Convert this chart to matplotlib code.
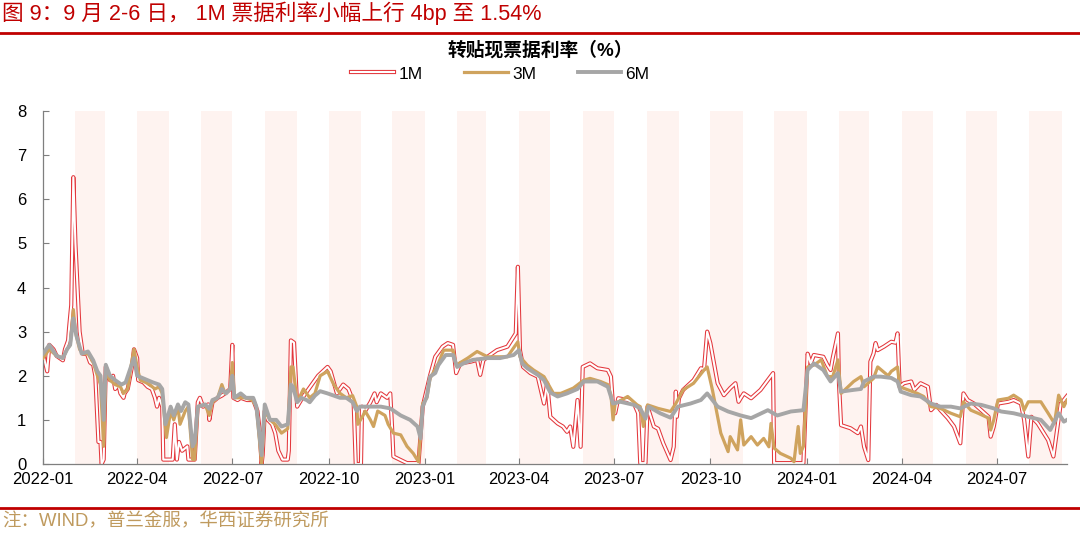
import matplotlib
matplotlib.use('Agg')
import matplotlib.pyplot as plt
import matplotlib.dates as mdates
import matplotlib.patheffects as pe
from matplotlib.lines import Line2D
import pandas as pd

plt.rcParams['font.family'] = ['Liberation Sans', 'Noto Sans CJK SC']

# days since 2022-01-01 and rates (%)
start = pd.Timestamp('2022-01-01')
end = pd.Timestamp('2024-09-06')

days_1m = [0, 4, 6, 10, 13, 16, 19, 21, 24, 25, 27, 29, 31, 35, 38, 42, 45, 48, 50, 53, 55, 56, 58, 60,
           64, 67, 69, 72, 74, 77, 78, 81, 85, 87, 90, 91, 96, 100, 104, 107, 109, 111, 114, 115, 124,
           126, 128, 130, 133, 138, 139, 145, 148, 150, 153, 158, 159, 162, 167, 171, 174, 179, 181,
           182, 186, 189, 195, 201, 205, 207, 209, 210, 212, 215, 219, 222, 225, 229, 234, 235, 237,
           240, 243, 248, 251, 257, 263, 272, 275, 281, 287, 292, 297, 299, 304, 305, 308, 313, 317,
           319, 323, 329, 332, 334, 335, 342, 348, 359, 363, 370, 375, 382, 387, 392, 395, 399, 409,
           415, 418, 421, 425, 434, 444, 452, 454, 456, 459, 466, 473, 479, 482, 485, 492, 497, 501,
           504, 507, 511, 514, 516, 523, 530, 540, 543, 545, 547, 550, 559, 565, 569, 571, 576, 578,
           584, 588, 593, 600, 603, 605, 606, 608, 612, 622, 629, 632, 635, 638, 645, 651, 657, 662,
           665, 667, 670, 677, 686, 693, 698, 699, 727, 731, 734, 737, 746, 750, 753, 755, 760, 761,
           763, 772, 779, 782, 785, 789, 791, 794, 796, 798, 804, 811, 815, 817, 819, 823, 830, 833,
           839, 846, 849, 854, 858, 865, 871, 877, 879, 880, 884, 890, 897, 904, 906, 909, 913, 923,
           928, 935, 938, 942, 945, 951, 961, 966, 970, 973, 976, 979]
rate_1m = [2.5, 2.1, 2.7, 2.6, 2.45, 2.4, 2.35, 2.6, 2.8, 3.1, 3.6, 6.5, 5.0, 3.0, 2.5, 2.5, 2.3, 2.25,
           2.0, 0.5, 0.5, 0.0, 0.1, 2.2, 1.9, 2.0, 1.7, 1.8, 1.6, 1.5, 1.6, 1.7, 2.2, 2.6, 2.4, 1.9,
           1.85, 1.75, 1.7, 1.5, 1.3, 1.5, 1.3, 0.1, 0.1, 0.9, 0.1, 0.5, 0.3, 0.4, 0.1, 0.1, 1.4, 1.5,
           1.3, 1.35, 1.0, 1.4, 1.5, 1.55, 1.6, 1.7, 2.7, 1.5, 1.45, 1.5, 1.45, 1.45, 1.2, 0.8, 0.0,
           0.2, 1.2, 1.0, 0.9, 0.7, 0.3, 0.1, 0.1, 0.3, 2.8, 2.75, 1.3, 1.5, 1.6, 1.8, 2.0, 2.2, 2.1,
           1.6, 1.8, 1.7, 1.4, 0.0, 0.0, 1.3, 1.2, 1.4, 1.6, 1.4, 1.6, 1.5, 1.6, 0.7, 0.17, 0.09,
           0.02, 0.02, 1.3, 2.0, 2.43, 2.66, 2.74, 2.7, 2.06, 2.28, 2.32, 2.36, 2.02, 2.35, 2.43,
           2.58, 2.66, 2.96, 4.47, 2.58, 2.2, 2.06, 1.98, 1.37, 1.83, 1.07, 0.92, 0.85, 0.73, 0.85,
           0.39, 1.45, 0.39, 2.2, 2.28, 2.17, 2.13, 1.98, 1.3, 1.15, 1.49, 1.45, 1.37, 1.15, 0.02,
           0.02, 1.3, 0.85, 0.8, 0.47, 0.09, 0.39, 1.64, 1.07, 1.49, 1.68, 1.9, 2.17, 2.15, 3.0,
           2.74, 1.83, 1.56, 1.72, 1.83, 1.41, 1.49, 1.6, 1.49, 1.68, 1.9, 2.06, 0.02, 0.02, 2.5,
           2.28, 2.47, 2.43, 2.24, 2.13, 2.4, 2.96, 1.83, 0.88, 0.81, 0.7, 0.85, 0.39, 0.09, 2.32,
           2.5, 2.74, 2.58, 2.66, 2.77, 2.75, 2.96, 1.75, 1.83, 1.87, 1.68, 1.83, 1.75, 1.22, 1.34,
           1.22, 1.04, 0.85, 0.47, 1.22, 1.6, 1.45, 1.37, 1.22, 1.07, 0.62, 0.85, 1.37, 1.41, 1.45,
           1.37, 1.0, 0.17, 1.07, 0.92, 0.54, 0.17, 0.85, 1.37, 1.45, 1.54]

days_3m = [0, 6, 13, 19, 23, 26, 29, 31, 35, 38, 43, 48, 52, 55, 58, 60, 64, 69, 74, 77, 81, 84, 87,
           90, 93, 98, 102, 107, 111, 114, 118, 122, 125, 129, 131, 136, 139, 143, 145, 148, 155,
           159, 162, 167, 171, 174, 179, 181, 183, 193, 200, 204, 209, 212, 217, 222, 228, 234, 235,
           237, 239, 243, 247, 249, 255, 260, 265, 272, 278, 284, 290, 296, 300, 301, 306, 308, 313,
           316, 320, 327, 330, 335, 342, 348, 354, 359, 363, 367, 370, 378, 383, 392, 395, 406, 415,
           425, 444, 454, 456, 463, 469, 479, 488, 495, 507, 517, 523, 533, 540, 543, 545, 547, 559,
           568, 571, 574, 578, 588, 600, 605, 612, 622, 632, 635, 640, 648, 655, 657, 664, 667, 670,
           677, 683, 689, 694, 696, 699, 705, 715, 718, 722, 724, 727, 731, 737, 744, 750, 755, 760,
           763, 775, 782, 785, 794, 798, 808, 811, 817, 819, 827, 836, 842, 849, 858, 868, 877, 880,
           887, 894, 904, 906, 909, 913, 923, 928, 935, 938, 942, 954, 961, 967, 971, 976, 979]
rate_3m = [2.4, 2.6, 2.45, 2.4, 2.6, 2.7, 3.5, 3.0, 2.6, 2.5, 2.5, 2.3, 2.0, 1.8, 0.4, 2.1, 1.9, 1.8,
           1.75, 1.6, 1.7, 2.2, 2.6, 2.2, 1.9, 1.85, 1.8, 1.7, 1.75, 1.6, 0.6, 1.2, 1.0, 1.3, 0.9,
           1.2, 1.3, 0.1, 0.1, 1.3, 1.35, 1.1, 1.4, 1.5, 1.8, 1.6, 1.7, 2.3, 1.5, 1.5, 1.45, 1.3,
           0.0, 1.2, 1.0, 0.9, 0.7, 0.8, 1.2, 2.2, 2.2, 1.4, 1.6, 1.7, 1.5, 1.6, 2.0, 2.1, 1.8, 1.6,
           1.5, 1.55, 1.3, 0.9, 1.1, 1.2, 1.0, 0.85, 1.2, 1.1, 0.9, 0.7, 0.66, 0.4, 0.24, 0.05,
           1.37, 1.5, 1.94, 2.28, 2.58, 2.58, 2.24, 2.4, 2.55, 2.43, 2.43, 2.77, 2.43, 2.24, 2.13,
           1.98, 1.6, 1.6, 1.72, 1.9, 1.94, 1.87, 1.8, 1.56, 1.0, 1.37, 1.53, 1.34, 1.3, 0.85, 1.34,
           1.26, 1.19, 1.37, 1.68, 1.83, 2.13, 2.2, 1.68, 0.7, 0.28, 0.62, 0.32, 1.0, 0.43, 0.62,
           0.43, 0.58, 0.39, 0.92, 0.36, 0.24, 0.13, 0.05, 0.85, 0.24, 0.4, 2.2, 2.24, 2.36, 1.98,
           1.98, 2.36, 1.6, 1.87, 1.98, 1.75, 1.94, 2.2, 2.0, 2.1, 2.2, 1.75, 1.68, 1.6, 1.53, 1.3,
           1.26, 1.15, 1.07, 1.41, 1.22, 1.15, 1.04, 0.77, 1.0, 1.45, 1.49, 1.56, 1.45, 1.22, 1.41,
           1.41, 1.15, 0.92, 1.56, 1.3, 1.45]

days_6m = [0, 6, 13, 19, 23, 26, 29, 32, 37, 43, 48, 52, 55, 58, 60, 64, 69, 75, 79, 84, 87, 90, 95,
           100, 105, 111, 114, 117, 122, 125, 129, 132, 136, 139, 143, 145, 148, 155, 159, 162, 167,
           171, 175, 179, 181, 183, 189, 194, 201, 204, 209, 212, 217, 223, 228, 234, 237, 239, 243,
           247, 252, 255, 260, 265, 272, 278, 284, 290, 296, 300, 303, 313, 323, 332, 342, 351, 358,
           361, 363, 367, 370, 375, 378, 385, 392, 396, 402, 411, 425, 437, 450, 455, 458, 463, 473,
           479, 485, 492, 501, 511, 517, 530, 540, 545, 552, 565, 571, 576, 579, 590, 600, 607, 619,
           629, 635, 645, 655, 667, 677, 693, 702, 715, 727, 731, 737, 746, 753, 760, 763, 775, 782,
           785, 794, 801, 811, 817, 820, 830, 839, 849, 858, 868, 877, 887, 897, 909, 916, 928, 942,
           954, 963, 971, 976, 979]
rate_6m = [2.5, 2.7, 2.45, 2.4, 2.6, 2.7, 3.3, 2.9, 2.5, 2.55, 2.35, 2.1, 2.0, 1.0, 2.25, 2.0, 1.9,
           1.8, 1.85, 2.2, 2.4, 2.0, 1.95, 1.9, 1.85, 1.8, 1.7, 0.9, 1.3, 1.1, 1.35, 1.2, 1.4, 1.35,
           0.4, 0.5, 1.3, 1.35, 1.25, 1.45, 1.5, 1.7, 1.6, 1.7, 2.0, 1.5, 1.6, 1.5, 1.5, 1.3, 0.2,
           1.35, 1.0, 1.0, 0.85, 0.9, 1.8, 1.75, 1.4, 1.5, 1.45, 1.4, 1.55, 1.65, 1.6, 1.55, 1.5,
           1.5, 1.4, 1.2, 1.3, 1.3, 1.3, 1.26, 1.1, 1.0, 0.85, 0.58, 1.3, 1.53, 1.98, 2.06, 2.24,
           2.47, 2.47, 2.2, 2.28, 2.36, 2.4, 2.4, 2.47, 2.58, 2.28, 2.17, 2.02, 1.9, 1.62, 1.53, 1.6,
           1.7, 1.87, 1.87, 1.75, 1.37, 1.41, 1.34, 1.26, 1.03, 1.3, 1.15, 1.05, 1.3, 1.37, 1.45,
           1.6, 1.3, 1.19, 1.1, 1.04, 1.22, 1.1, 1.19, 1.22, 2.13, 2.28, 2.13, 1.87, 2.06, 1.64,
           1.68, 1.7, 1.87, 1.98, 1.98, 1.95, 1.87, 1.64, 1.56, 1.53, 1.37, 1.3, 1.3, 1.26, 1.37,
           1.34, 1.26, 1.19, 1.15, 1.07, 1.0, 0.77, 1.15, 0.96, 1.0]


def to_dates(days):
    return start + pd.to_timedelta(days, unit='D')


red = '#C00000'
fig = plt.figure(figsize=(10.8, 5.33), dpi=100)
ax = fig.add_axes([43 / 1080, 1 - 464 / 533, (1067 - 43) / 1080, (464 - 111) / 533])

# light bands on every other month
for m in pd.date_range('2022-02-01', '2024-08-01', freq='2MS'):
    ax.axvspan(m, m + pd.offsets.MonthBegin(1), color='#FEF3F0', lw=0, zorder=0)

ax.plot(to_dates(days_1m), rate_1m, color='white', lw=1.5, label='1M', zorder=2,
        path_effects=[pe.Stroke(linewidth=3.0, foreground='#E3373C'), pe.Normal()])
ax.plot(to_dates(days_3m), rate_3m, color='#CFA35E', lw=2.3, label='3M', zorder=3)
ax.plot(to_dates(days_6m), rate_6m, color='#A6A6A6', lw=2.8, label='6M', zorder=4)

ax.set_xlim(start, end)
ax.set_ylim(0, 8)
ax.xaxis.set_major_locator(mdates.MonthLocator(bymonth=[1, 4, 7, 10]))
ax.xaxis.set_major_formatter(mdates.DateFormatter('%Y-%m'))
ax.tick_params(direction='in', length=4, width=0.8, color='#7F7F7F', labelsize=12, pad=6)
ax.tick_params(axis='y', pad=12)
for s in ['top', 'right']:
    ax.spines[s].set_visible(False)
for s in ['left', 'bottom']:
    ax.spines[s].set_color('#7F7F7F')
    ax.spines[s].set_linewidth(0.9)

fig.text(540 / 1080, 1 - 50 / 533, '转贴现票据利率（%）', ha='center', va='center',
         fontsize=13.5, fontweight='bold')
fig.legend(loc='center', bbox_to_anchor=(500 / 1080, 1 - 74 / 533), ncol=3, frameon=False,
           fontsize=12.5, handlelength=2.5, columnspacing=2.4, handletextpad=0.25)

fig.text(2 / 1080, 1 - 13 / 533, '图 9：9 月 2-6 日， 1M 票据利率小幅上行 4bp 至 1.54%',
         color=red, fontsize=15.6, ha='left', va='center')
fig.add_artist(Line2D([0, 1], [1 - 33 / 533] * 2, color=red, lw=2))
fig.add_artist(Line2D([0, 1], [1 - 508 / 533] * 2, color=red, lw=2))
fig.text(2 / 1080, 1 - 522 / 533, '注：WIND，普兰金服，华西证券研究所', color='#BF9A5E',
         fontsize=13.3, ha='left', va='center')

fig.savefig('out.png', dpi=100)
